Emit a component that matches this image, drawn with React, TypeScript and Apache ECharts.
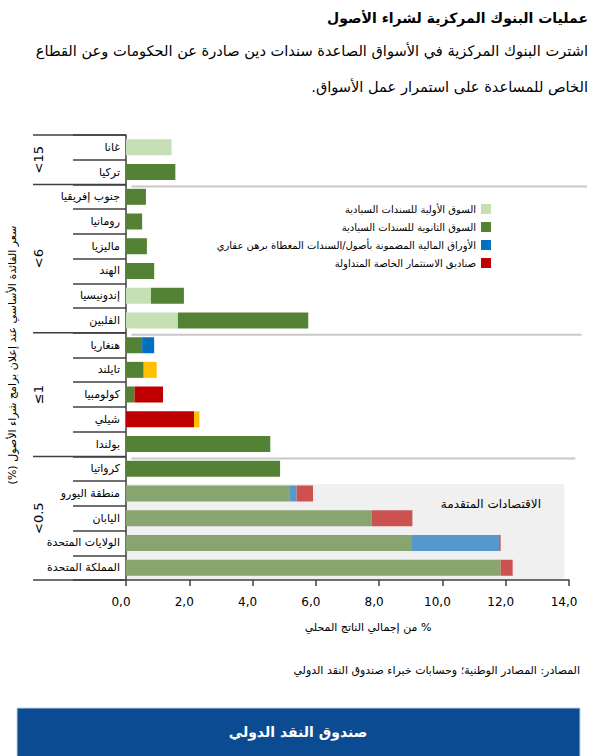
import React, { useEffect, useRef } from "react";
import * as echarts from "echarts";

const categories = [
  "غانا",
  "تركيا",
  "جنوب إفريقيا",
  "رومانيا",
  "ماليزيا",
  "الهند",
  "إندونيسيا",
  "الفلبين",
  "هنغاريا",
  "تايلند",
  "كولومبيا",
  "شيلي",
  "بولندا",
  "كرواتيا",
  "منطقة اليورو",
  "اليابان",
  "الولايات المتحدة",
  "المملكة المتحدة",
];

const primaryMarket = [1.44, 0, 0, 0, 0, 0, 0.79, 1.64, 0, 0, 0, 0, 0, 0, 0, 0, 0, 0];
const secondaryMarket = [0, 1.56, 0.63, 0.51, 0.66, 0.89, 1.04, 4.12, 0.51, 0.56, 0.27, 0, 4.56, 4.87, 5.18, 7.77, 9.01, 11.84];
const absMbs = [0, 0, 0, 0, 0, 0, 0, 0, 0.38, 0, 0, 0, 0, 0, 0.21, 0, 2.78, 0];
const etfs = [0, 0, 0, 0, 0, 0, 0, 0, 0, 0, 0.9, 2.15, 0, 0, 0.52, 1.28, 0.05, 0.38];
const others = [0, 0, 0, 0, 0, 0, 0, 0, 0, 0.41, 0, 0.17, 0, 0, 0, 0, 0, 0];

const seriesNames = [
  "السوق الأولية للسندات السيادية",
  "السوق الثانوية للسندات السيادية",
  "الأوراق المالية المضمونة بأصول/السندات المغطاة برهن عقاري",
  "صناديق الاستثمار الخاصة المتداولة",
  "أخرى",
];

const groupLabels = ["<15", "<6", "≤1", "<0.5"];
const groupStarts = [0, 2, 8, 13, 18];
const advancedStart = 14;

const xTicks = [0, 14, 2];

const title = "عمليات البنوك المركزية لشراء الأصول";
const subtitle1 = "اشترت البنوك المركزية في الأسواق الصاعدة سندات دين صادرة عن الحكومات وعن القطاع";
const subtitle2 = "الخاص للمساعدة على استمرار عمل الأسواق.";
const yTitle = "سعر الفائدة الأساسي عند إعلان برامج شراء الأصول (%)";
const xTitle = "% من إجمالي الناتج المحلي";
const advancedLabel = "الاقتصادات المتقدمة";
const sourceText = "المصادر: المصادر الوطنية؛ وحسابات خبراء صندوق النقد الدولي";
const footerText = "صندوق النقد الدولي";

const FONT = "DejaVu Sans";
const rtl = (s: string) => "\u202B" + s + "\u202C";

const emergingColors = ["#C5E0B4", "#548235", "#0070C0", "#C00000", "#FFC000"];
const advancedColors = ["#C5E0B4", "#88A570", "#5599CC", "#CC5252", "#FFC000"];

export default function App() {
  const ref = useRef<HTMLDivElement>(null);

  useEffect(() => {
    if (!ref.current) return;
    const chart = echarts.init(ref.current, undefined, { renderer: "svg" });
    const arrays = [primaryMarket, secondaryMarket, absMbs, etfs, others];

    const series = arrays.map((arr, si) => ({
      name: seriesNames[si],
      type: "bar",
      stack: "total",
      barWidth: 16,
      itemStyle: { color: emergingColors[si] },
      data: arr.map((v, i) =>
        i >= advancedStart ? { value: v, itemStyle: { color: advancedColors[si] } } : v
      ),
      z: 3,
    }));

    chart.setOption({
      animation: false,
      textStyle: { fontFamily: FONT },
      grid: { left: 126, right: 27, top: 135, bottom: 176, containLabel: false },
      legend: {
        data: seriesNames.slice(0, 4).map((n) => ({ name: n })),
        orient: "vertical",
        align: "right",
        right: 100,
        top: 199,
        itemWidth: 10,
        itemHeight: 10,
        itemGap: 8,
        icon: "rect",
        formatter: (n: string) => rtl(n),
        textStyle: { fontSize: 10, color: "#000", fontFamily: FONT },
        selectedMode: false,
      },
      xAxis: {
        type: "value",
        min: xTicks[0],
        max: xTicks[1],
        interval: xTicks[2],
        axisLine: { show: true, lineStyle: { color: "#404040", width: 1.5 } },
        axisTick: { show: true, length: 6, lineStyle: { color: "#404040", width: 1.5 } },
        splitLine: { show: false },
        axisLabel: {
          color: "#000",
          fontSize: 12,
          fontFamily: FONT,
          margin: 16,
          padding: [0, 10, 0, 0],
          formatter: (v: number) => v.toFixed(1).replace(".", ","),
        },
      },
      yAxis: {
        type: "category",
        inverse: true,
        data: categories,
        axisLine: { show: true, lineStyle: { color: "#404040", width: 1.5 } },
        axisTick: { show: true, length: 53, lineStyle: { color: "#404040", width: 1.5 } },
        axisLabel: { color: "#000", fontSize: 11, margin: 6, fontFamily: FONT },
      },
      series,
    });

    const yPix = (i: number) => chart.convertToPixel({ yAxisIndex: 0 }, categories[i]) as number;
    const xPix = (v: number) => chart.convertToPixel({ xAxisIndex: 0 }, v) as number;
    const band = yPix(1) - yPix(0);
    const boundary = (i: number) => yPix(0) - band / 2 + i * band;
    const x0 = xPix(0);

    const elements: any[] = [];
    const text = (t: string, x: number, y: number, size: number, opts: any = {}) =>
      elements.push({
        type: "text",
        x,
        y,
        rotation: opts.rotation || 0,
        z: 10,
        style: {
          text: t,
          fontSize: size,
          fontFamily: FONT,
          fontWeight: opts.bold ? "bold" : "normal",
          fill: opts.fill || "#000",
          textAlign: opts.align || "right",
          verticalAlign: "middle",
        },
      });

    // titles
    text(rtl(title), 588, 18, 14, { bold: true });
    text(rtl(subtitle1), 588, 50, 14.6);
    text(rtl(subtitle2), 588, 86, 14.6);

    // advanced economies shading
    const advTop = boundary(advancedStart) + 3;
    const advBottom = boundary(categories.length);
    elements.push({
      type: "rect",
      z: 0,
      shape: { x: x0, y: advTop, width: xPix(13.85) - x0, height: advBottom - advTop },
      style: { fill: "#F0F0F0" },
    });
    text(rtl(advancedLabel), 541, boundary(advancedStart + 1) - 2, 12);

    // group separators in plot
    const sepEnds = [14.57, 14.4, 14.2];
    [1, 2, 3].forEach((g, k) => {
      const y = boundary(groupStarts[g]) + 2;
      elements.push({
        type: "line",
        z: 1,
        shape: { x1: xPix(0.17), y1: y, x2: xPix(sepEnds[k]), y2: y },
        style: { stroke: "#C8C8C8", lineWidth: 2 },
      });
    });

    // group bracket lines on the left
    groupStarts.forEach((s) => {
      const y = boundary(s);
      elements.push({
        type: "line",
        z: 5,
        shape: { x1: 33, y1: y, x2: x0, y2: y },
        style: { stroke: "#404040", lineWidth: 1.5 },
      });
    });
    groupLabels.forEach((lab, g) => {
      const yc = (boundary(groupStarts[g]) + boundary(groupStarts[g + 1])) / 2;
      text(lab, 38, yc, 13, { rotation: Math.PI / 2, align: "center" });
    });

    // y title
    text(rtl(yTitle), 12, 355, 11, { rotation: Math.PI / 2, align: "center" });

    // x title
    text(rtl(xTitle), 368, 627, 11, { align: "center" });

    // source
    text(rtl(sourceText), 580, 670, 11);

    // footer
    elements.push({
      type: "rect",
      z: 0,
      shape: { x: 17, y: 708, width: 563, height: 60 },
      style: { fill: "#0B4B91", stroke: "#C4D4E6", lineWidth: 1 },
    });
    text(rtl(footerText), 298, 732, 14, { bold: true, fill: "#FFFFFF", align: "center" });

    chart.setOption({ graphic: { elements } });

    return () => chart.dispose();
  }, []);

  return (
    <div
      ref={ref}
      style={{ position: "absolute", left: 0, top: 0, width: 596, height: 756, background: "#fff" }}
    />
  );
}
